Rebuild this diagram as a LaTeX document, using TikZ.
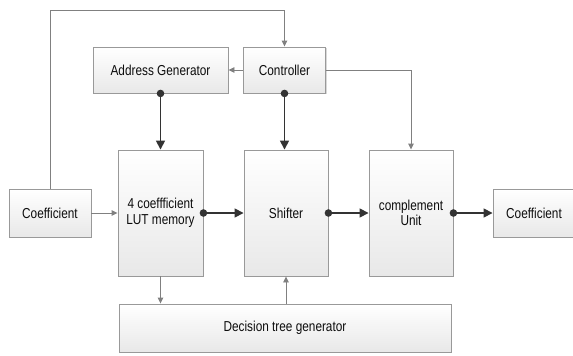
\documentclass[tikz,border=0pt]{standalone}
\usepackage{fontspec}
\setmainfont{Liberation Sans}[FakeStretch=0.82]
\usetikzlibrary{arrows.meta,shadows}
\tikzset{
	blk/.style={draw=black!40, line width=0.9pt, top color=white, bottom color=black!9,
		text=black!95, inner sep=0pt, align=center, font=\fontsize{14.4}{15.5}\selectfont,
		drop shadow={shadow xshift=1pt, shadow yshift=-1pt, fill=black!30, opacity=.5}},
	bus/.style={draw=black!80, line width=1.6pt, -{Triangle[length=9pt,width=9pt]}},
	ctl/.style={draw=black!50, line width=0.9pt, -{Triangle[length=6pt,width=5.5pt]}},
	dot/.style={circle, fill=black!80, inner sep=0pt, minimum size=7.6pt},
}
\begin{document}
\begin{tikzpicture}[x=1pt,y=-1pt]
	\useasboundingbox (0,0) rectangle (573,356);
	\clip (0,0) rectangle (573,356);
	
	\node[blk, minimum width=135pt, minimum height=46pt] (addr) at (160.5,70) {Address Generator};
	\node[blk, minimum width=82pt, minimum height=46pt] (ctrl) at (284.5,70) {Controller};
	
	\node[blk, minimum width=82pt, minimum height=48pt] (coefin) at (50,213) {Coefficient};
	\node[blk, minimum width=85pt, minimum height=126pt] (lut) at (160.5,213) {4 coeffficient\\LUT memory};
	\node[blk, minimum width=84pt, minimum height=126pt] (shft) at (286,213) {Shifter};
	\node[blk, minimum width=84pt, minimum height=126pt] (cmpl) at (411,213) {complement\\Unit};
	\node[blk, minimum width=82pt, minimum height=48pt] (coefout) at (534,213) {Coefficient};
	
	\node[blk, minimum width=332pt, minimum height=48pt] (dtree) at (285,328) {Decision tree generator};
	
	\coordinate (loop) at (50,10);
	
	\draw[ctl] (coefin.north) -- (loop) -| (ctrl.north);
	\draw[ctl] (ctrl.west) -- (addr.east);
	\draw[ctl] (ctrl.east) -| (cmpl.north);
	\draw[ctl] (coefin.east) -- (lut.west);
	\draw[ctl] (lut.south) -- (dtree.north -| lut.south);
	\draw[ctl] (dtree.north -| shft.south) -- (shft.south);
	
	\draw[bus] (addr.south) node[dot]{} -- (lut.north);
	\draw[bus] (ctrl.south) node[dot]{} -- (ctrl.south |- shft.north);
	\draw[bus] (lut.east) node[dot]{} -- (shft.west);
	\draw[bus] (shft.east) node[dot]{} -- (cmpl.west);
	\draw[bus] (cmpl.east) node[dot]{} -- (coefout.west);
\end{tikzpicture}
\end{document}
